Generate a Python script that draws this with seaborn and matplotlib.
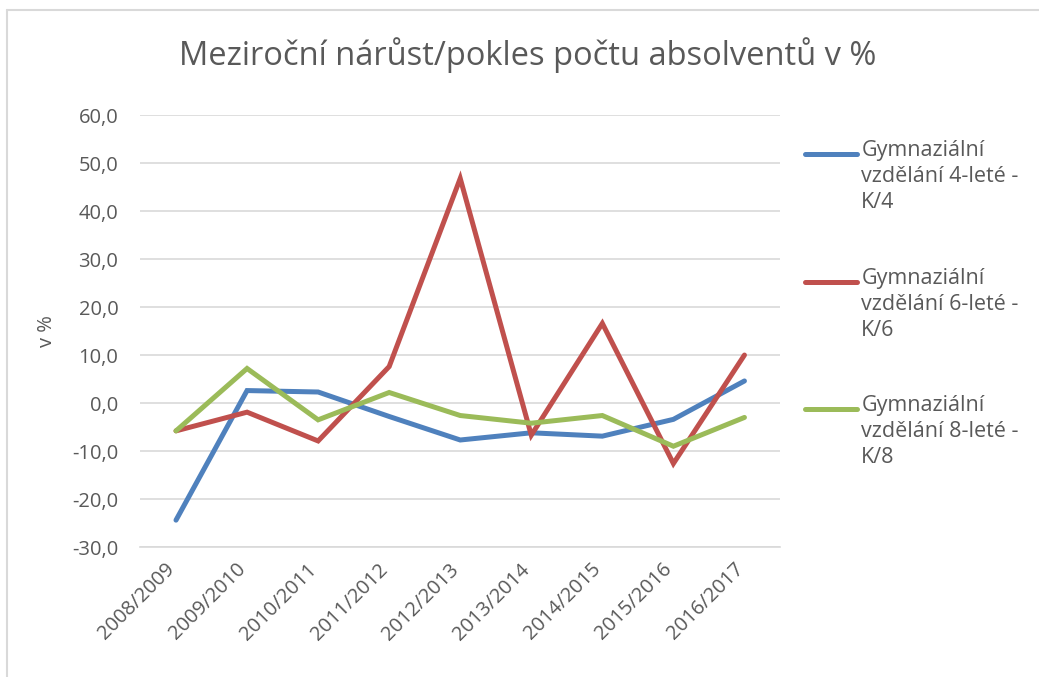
import pandas as pd
import numpy as np
import matplotlib.pyplot as plt
import seaborn as sns
from matplotlib.lines import Line2D
import matplotlib.transforms as mtransforms

years = ["2008/2009", "2009/2010", "2010/2011", "2011/2012", "2012/2013",
         "2013/2014", "2014/2015", "2015/2016", "2016/2017"]
k4 = [-24.4, 2.6, 2.3, -2.8, -7.7, -6.2, -6.9, -3.4, 4.6]
k6 = [-5.8, -1.9, -7.9, 7.6, 46.8, -6.7, 16.6, -12.6, 10.0]
k8 = [-5.8, 7.2, -3.5, 2.2, -2.6, -4.2, -2.6, -9.0, -3.0]
labels = ["Gymnaziální\nvzdělání 4-leté -\nK/4",
          "Gymnaziální\nvzdělání 6-leté -\nK/6",
          "Gymnaziální\nvzdělání 8-leté -\nK/8"]
colors = ["#4F81BD", "#C0504D", "#9BBB59"]

grey = "#595959"

sns.set_style("white")
plt.rcParams["font.family"] = ["Open Sans", "DejaVu Sans"]

df = pd.DataFrame({"rok": years * 3,
                   "hodnota": k4 + k6 + k8,
                   "serie": [labels[0]] * 9 + [labels[1]] * 9 + [labels[2]] * 9})
df["x"] = list(range(len(years))) * 3

fig = plt.figure(figsize=(10.39, 6.77), dpi=100)
ax = fig.add_axes([0.1352, 0.192, 0.6155, 0.638])

sns.lineplot(data=df, x="x", y="hodnota", hue="serie", palette=colors,
             linewidth=3.6, ax=ax, legend=False, solid_capstyle="round",
             solid_joinstyle="miter")

ax.set_xlim(-0.5, 8.5)
ax.set_ylim(-30, 60)
ax.set_yticks(np.arange(-30, 61, 10))
ax.set_yticklabels([f"{v:.1f}".replace(".", ",") for v in np.arange(-30, 61, 10)],
                   fontsize=14.5, color=grey)
ax.set_xticks(range(len(years)))
ax.set_xticklabels(years, rotation=45, ha="right", va="center",
                   rotation_mode="anchor", fontsize=14.5, color=grey)
ax.tick_params(axis="y", length=0, pad=16)
ax.tick_params(axis="x", length=0, pad=14)
# nudge the rotated labels a bit left, like in the original
shift = mtransforms.ScaledTranslation(-4 / 100, 0, fig.dpi_scale_trans)
for t in ax.get_xticklabels():
    t.set_transform(t.get_transform() + shift)
ax.grid(axis="y", color="#d9d9d9", linewidth=1.2)
ax.set_axisbelow(True)
for s in ["top", "right", "left"]:
    ax.spines[s].set_visible(False)
ax.spines["bottom"].set_color("#d9d9d9")
ax.spines["bottom"].set_linewidth(1.2)
ax.set_xlabel("")
ax.set_ylabel("v %", fontsize=14.5, color=grey)
ax.yaxis.set_label_coords(-0.131, 0.5)

fig.text(0.508, 0.919, "Meziroční nárůst/pokles počtu absolventů v %",
         ha="center", va="center", fontsize=23.5, color=grey)

# legend drawn by hand so the line sits at the first text row
leg_y = [0.7725, 0.5835, 0.396]
for c, lab, y in zip(colors, labels, leg_y):
    fig.add_artist(Line2D([0.775, 0.825], [y, y], color=c, linewidth=3.6,
                          solid_capstyle="round", transform=fig.transFigure))
    fig.text(0.829, y + 0.02, lab, ha="left", va="top", fontsize=15.5,
             color=grey, linespacing=1.3)

# chart border, only top and left show in the original
fig.add_artist(Line2D([0.007, 1.0], [0.985, 0.985], color="#d9d9d9",
                      linewidth=1.5, transform=fig.transFigure))
fig.add_artist(Line2D([0.007, 0.007], [0.0, 0.985], color="#d9d9d9",
                      linewidth=1.5, transform=fig.transFigure))

fig.savefig("out.png", dpi=100)
